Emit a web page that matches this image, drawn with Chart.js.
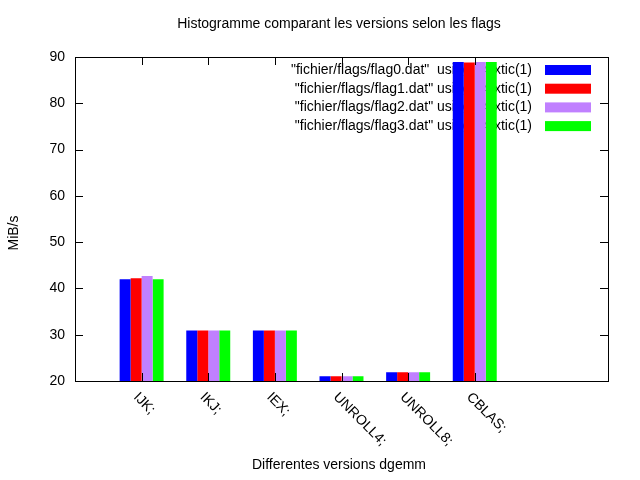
<!DOCTYPE html>
<html>
<head>
<meta charset="utf-8">
<script src="https://cdn.jsdelivr.net/npm/chart.js@4"></script>
<style>
  html, body { margin: 0; padding: 0; background: #fff; }
</style>
</head>
<body>
<canvas id="chart" width="640" height="480"></canvas>
<script>
const categories = ['', 'IJK;', 'IKJ;', 'IEX;', 'UNROLL4;', 'UNROLL8;', 'CBLAS;', '', ''];
const flag0 = [null, 42.0, 30.9, 30.9, 21.0, 21.9, 88.9, null, null];
const flag1 = [null, 42.2, 30.9, 30.9, 21.0, 21.9, 88.8, null, null];
const flag2 = [null, 42.7, 30.9, 30.9, 21.0, 21.9, 88.9, null, null];
const flag3 = [null, 42.0, 30.9, 30.9, 21.0, 21.9, 88.9, null, null];
const yTicks = [20, 30, 40, 50, 60, 70, 80, 90];

const seriesNames = [
    '"fichier/flags/flag0.dat"  using 14:xtic(1)',
    '"fichier/flags/flag1.dat" using 14:xtic(1)',
    '"fichier/flags/flag2.dat" using 14:xtic(1)',
    '"fichier/flags/flag3.dat" using 14:xtic(1)'
];
const colors = ['#0000ff', '#ff0000', '#c080ff', '#00ff00'];
const FONT = '14px "Liberation Sans", Arial, sans-serif';

// gnuplot-like frame, ticks, labels and legend
const gnuplotDecor = {
    id: 'gnuplotDecor',
    beforeDatasetsDraw(chart) {
        const c = chart.ctx;
        c.save();
        c.font = FONT;
        c.fillStyle = '#000';
        c.textAlign = 'right';
        c.textBaseline = 'middle';
        seriesNames.forEach((n, i) => {
            const y = 70 + i * 18.7;
            c.fillText(n, 532, y);
            c.fillStyle = colors[i];
            c.fillRect(545, y - 5, 46, 10);
            c.fillStyle = '#000';
        });
        c.restore();
    },
    afterDraw(chart) {
        const c = chart.ctx, a = chart.chartArea;
        const xs = chart.scales.x, ys = chart.scales.y;
        c.save();
        c.strokeStyle = '#000';
        c.lineWidth = 1;
        c.strokeRect(a.left + 0.5, a.top + 0.5, a.right - a.left, a.bottom - a.top);
        c.beginPath();
        yTicks.forEach(v => {
            const y = Math.round(ys.getPixelForValue(v)) + 0.5;
            c.moveTo(a.left, y); c.lineTo(a.left + 8, y);
            c.moveTo(a.right, y); c.lineTo(a.right - 8, y);
        });
        for (let i = 1; i <= 6; i++) {
            const x = Math.round(xs.getPixelForValue(i)) + 0.5;
            c.moveTo(x, a.bottom); c.lineTo(x, a.bottom - 8);
            c.moveTo(x, a.top); c.lineTo(x, a.top + 8);
        }
        c.stroke();
        c.font = FONT;
        c.fillStyle = '#000';
        c.textAlign = 'right';
        c.textBaseline = 'middle';
        yTicks.forEach(v => c.fillText(String(v), a.left - 10, ys.getPixelForValue(v)));
        c.textAlign = 'left';
        for (let i = 1; i <= 6; i++) {
            const x = xs.getPixelForValue(i);
            c.save();
            c.translate(x - 6, a.bottom + 14);
            c.rotate(Math.PI / 4);
            c.fillText(categories[i], 0, 0);
            c.restore();
        }
        c.textAlign = 'center';
        c.fillText('Histogramme comparant les versions selon les flags', 339, 24);
        c.fillText('Differentes versions dgemm', 339, 465);
        c.save();
        c.translate(14, 233);
        c.rotate(-Math.PI / 2);
        c.fillText('MiB/s', 0, 0);
        c.restore();
        c.restore();
    }
};

new Chart(document.getElementById('chart'), {
    type: 'bar',
    data: {
        labels: categories,
        datasets: [flag0, flag1, flag2, flag3].map((d, i) => ({
            label: seriesNames[i],
            data: d,
            backgroundColor: colors[i],
            borderWidth: 0,
            barPercentage: 1,
            categoryPercentage: 0.66
        }))
    },
    options: {
        responsive: false,
        animation: false,
        devicePixelRatio: 1,
        layout: { padding: { top: 57, right: 32, left: 0, bottom: 0 } },
        plugins: { legend: { display: false }, tooltip: { enabled: false } },
        scales: {
            x: {
                offset: false,
                grid: { display: false },
                border: { display: false },
                ticks: { display: false },
                afterFit(s) { s.height = 99; }
            },
            y: {
                min: 20, max: 90,
                grid: { display: false },
                border: { display: false },
                ticks: { display: false, stepSize: 10 },
                afterFit(s) { s.width = 75; }
            }
        }
    },
    plugins: [gnuplotDecor]
});
</script>
</body>
</html>
